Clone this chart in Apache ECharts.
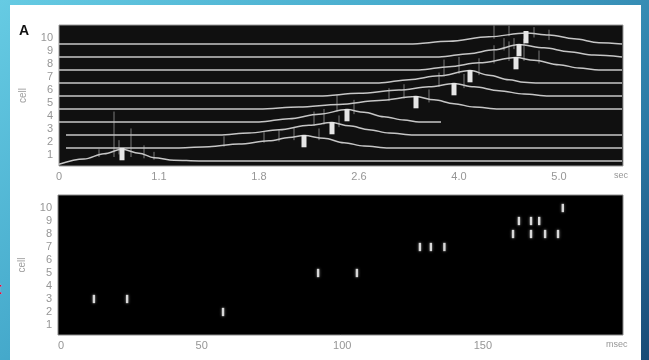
<!DOCTYPE html>
<html>
<head>
<meta charset="utf-8">
<script src="https://cdn.jsdelivr.net/npm/echarts@6/dist/echarts.min.js"></script>
<style>
  html, body { margin: 0; padding: 0; }
  body {
    width: 649px; height: 360px; overflow: hidden; position: relative;
    background: linear-gradient(140deg, #66cbe3 0%, #45a9cb 40%, #2a77a3 75%, #1a4a76 100%);
  }
  #panel { position: absolute; left: 10px; top: 5px; width: 631px; height: 355px; background: #fff; }
  #mark { position: absolute; left: -4px; top: 279px; color: #e3121b; font: bold 17px "Liberation Sans", sans-serif; }
  #chart { position: absolute; left: 0; top: 0; width: 649px; height: 360px; }
</style>
</head>
<body>
<div id="panel"></div>
<div id="mark">t</div>
<div id="chart"></div>
<script>
// tick labels
const secTicks = [0, 1, 2, 3, 4, 5];
const secLabels = ['0', '1.1', '1.8', '2.6', '4.0', '5.0'];
const msecTicks = [0, 50, 100, 150];
const cellTicks = [1, 2, 3, 4, 5, 6, 7, 8, 9, 10];

// top panel: trace of each cell, [sec, rise above its baseline]
const trace1 = [[0, -0.25], [0.25, 0.15], [0.45, 0.55], [0.63, 0.9], [0.8, 0.6], [0.95, 0.25], [1.15, 0.05], [1.4, 0], [5.63, 0]];
const trace2 = [[0.07, 0], [1.2, 0], [1.5, 0.1], [1.8, 0.3], [2.1, 0.55], [2.3, 0.8], [2.45, 0.95], [2.65, 0.75], [2.85, 0.4], [3.05, 0.15], [3.3, 0], [5.63, 0]];
const trace3 = [[0.07, 0], [1.6, 0], [1.9, 0.15], [2.2, 0.4], [2.5, 0.75], [2.73, 0.95], [2.9, 0.7], [3.1, 0.4], [3.3, 0.15], [3.55, 0], [5.63, 0]];
const trace4 = [[0, 0], [2.0, 0], [2.3, 0.25], [2.6, 0.6], [2.88, 0.95], [3.05, 0.75], [3.25, 0.4], [3.45, 0.15], [3.6, 0], [3.82, 0]];
const trace5 = [[0, 0], [2.0, 0], [2.4, 0.15], [2.8, 0.35], [3.2, 0.65], [3.57, 0.95], [3.75, 0.7], [3.95, 0.4], [4.15, 0.15], [4.4, 0], [5.63, 0]];
const trace6 = [[0, 0], [2.6, 0], [3.0, 0.2], [3.4, 0.45], [3.7, 0.7], [3.95, 0.95], [4.15, 0.7], [4.4, 0.4], [4.65, 0.15], [4.9, 0], [5.63, 0]];
const trace7 = [[0, 0], [3.2, 0], [3.5, 0.25], [3.8, 0.55], [4.11, 0.95], [4.3, 0.6], [4.5, 0.25], [4.65, 0.05], [4.8, 0], [5.63, 0]];
const trace8 = [[0, 0], [3.6, 0], [3.9, 0.25], [4.2, 0.55], [4.57, 0.95], [4.75, 0.75], [5.0, 0.4], [5.2, 0.15], [5.4, 0], [5.63, 0]];
const trace9 = [[0, 0], [3.8, 0], [4.1, 0.25], [4.35, 0.55], [4.6, 0.95], [4.85, 0.7], [5.1, 0.4], [5.35, 0.15], [5.63, 0]];
const trace10 = [[0, 0], [3.5, 0], [3.9, 0.2], [4.3, 0.55], [4.67, 0.85], [4.9, 0.7], [5.15, 0.4], [5.4, 0.1], [5.63, 0]];
const traces = [trace1, trace2, trace3, trace4, trace5, trace6, trace7, trace8, trace9, trace10];

// white markers at the peak of each cell (sec)
const peakTimes = [0.63, 2.45, 2.73, 2.88, 3.57, 3.95, 4.11, 4.57, 4.60, 4.67];

// spikes: [sec, cell, from, to] above the baseline
const spikes = [
  [0.55, 1, 0.3, 3.8], [0.72, 1, 0.3, 2.5], [0.6, 1, 0.5, 1.6], [0.85, 1, 0.2, 1.2], [0.4, 1, 0.3, 0.9], [0.95, 1, 0.1, 0.7],
  [1.65, 2, 0.1, 0.9], [2.05, 2, 0.4, 1.3], [2.2, 2, 0.5, 1.4], [2.35, 2, 0.6, 1.6], [2.6, 2, 0.6, 1.5],
  [2.55, 3, 0.7, 1.8], [2.65, 3, 0.8, 2.0], [2.8, 3, 0.6, 1.5],
  [2.78, 4, 0.8, 2.1], [2.95, 4, 0.6, 1.7],
  [3.3, 5, 0.6, 1.6], [3.45, 5, 0.8, 1.9], [3.7, 5, 0.5, 1.5],
  [3.8, 6, 0.7, 1.8], [4.05, 6, 0.6, 1.7],
  [3.85, 7, 0.5, 1.8], [4.0, 7, 0.7, 2.0], [4.2, 7, 0.6, 1.9],
  [4.35, 8, 0.5, 1.9], [4.5, 8, 0.7, 2.2], [4.65, 8, 0.7, 2.4], [4.8, 8, 0.5, 1.5],
  [4.45, 9, 0.5, 1.45], [4.55, 9, 0.6, 1.45],
  [4.35, 10, 0.4, 1.45], [4.5, 10, 0.6, 1.4], [4.75, 10, 0.5, 1.3], [4.9, 10, 0.3, 1.1]
];

// bottom panel: raster (msec, cell)
const rasterTimes = [11.7, 23.5, 57.6, 91.4, 105.2, 127.6, 131.5, 136.3, 160.7, 167.1, 172.1, 176.7, 162.8, 167.1, 170.0, 178.4];
const rasterCells = [3, 3, 2, 5, 5, 7, 7, 7, 8, 8, 8, 8, 9, 9, 9, 10];

const baseOffset = -0.46;
const labelColor = '#969696';
const font = '"Liberation Sans", Arial, sans-serif';

const chart = echarts.init(document.getElementById('chart'));

let series = [];
traces.forEach(function (tr, i) {
  const base = i + 1 + baseOffset;
  series.push({
    type: 'line',
    xAxisIndex: 0,
    yAxisIndex: 0,
    data: tr.map(p => [p[0], base + p[1]]),
    smooth: 0.35,
    smoothMonotone: 'x',
    showSymbol: false,
    silent: true,
    lineStyle: { color: '#c6c6c6', width: 1.5 },
    z: 3
  });
});

series.push({
  type: 'custom',
  xAxisIndex: 0,
  yAxisIndex: 0,
  silent: true,
  data: spikes.map(s => [s[0], s[1] + baseOffset + s[2], s[1] + baseOffset + s[3]]),
  renderItem: function (params, api) {
    const p0 = api.coord([api.value(0), api.value(1)]);
    const p1 = api.coord([api.value(0), api.value(2)]);
    return {
      type: 'line',
      shape: { x1: p0[0], y1: p0[1], x2: p1[0], y2: p1[1] },
      style: { stroke: '#7a7a7a', lineWidth: 1 }
    };
  },
  z: 2
});

series.push({
  type: 'custom',
  xAxisIndex: 0,
  yAxisIndex: 0,
  silent: true,
  data: peakTimes.map((t, i) => [t, i + 1 + baseOffset + 0.05, i + 1 + baseOffset + 1.0]),
  renderItem: function (params, api) {
    const p0 = api.coord([api.value(0), api.value(1)]);
    const p1 = api.coord([api.value(0), api.value(2)]);
    return {
      type: 'rect',
      shape: { x: p0[0] - 2.5, y: p1[1], width: 5, height: p0[1] - p1[1] },
      style: { fill: '#e6e6e6' }
    };
  },
  z: 4
});

series.push({
  type: 'custom',
  xAxisIndex: 1,
  yAxisIndex: 1,
  silent: true,
  data: rasterTimes.map((t, i) => [t, rasterCells[i]]),
  renderItem: function (params, api) {
    const p0 = api.coord([api.value(0), api.value(1) - 0.32]);
    const p1 = api.coord([api.value(0), api.value(1) + 0.32]);
    return {
      type: 'rect',
      shape: { x: p0[0] - 1.2, y: p1[1], width: 2.4, height: p0[1] - p1[1] },
      style: { fill: '#d8d8d8', shadowBlur: 3, shadowColor: 'rgba(200,200,200,0.6)' }
    };
  },
  z: 4
});

const yLabel = {
  customValues: cellTicks,
  color: labelColor,
  fontSize: 11,
  fontFamily: font,
  margin: 6,
  formatter: v => String(Math.round(v))
};

chart.setOption({
  animation: false,
  grid: [
    { left: 59, top: 25, width: 564, height: 141, show: true, backgroundColor: '#101010', borderColor: '#9a9a9a', borderWidth: 1 },
    { left: 58, top: 195, width: 565, height: 140, show: true, backgroundColor: '#000', borderColor: '#8a8a8a', borderWidth: 1 }
  ],
  xAxis: [
    {
      type: 'value', gridIndex: 0, min: 0, max: 5.64,
      axisLine: { show: false }, axisTick: { show: false }, splitLine: { show: false },
      axisLabel: {
        customValues: secTicks, color: labelColor, fontSize: 11, fontFamily: font, margin: 5,
        formatter: v => secLabels[Math.round(v)]
      }
    },
    {
      type: 'value', gridIndex: 1, min: -1.07, max: 199.8,
      axisLine: { show: false }, axisTick: { show: false }, splitLine: { show: false },
      axisLabel: {
        customValues: msecTicks, color: labelColor, fontSize: 11, fontFamily: font, margin: 5,
        formatter: v => String(Math.round(v))
      }
    }
  ],
  yAxis: [
    {
      type: 'value', gridIndex: 0, min: 0.15, max: 11,
      axisLine: { show: false }, axisTick: { show: false }, splitLine: { show: false },
      axisLabel: yLabel,
      name: 'cell', nameLocation: 'middle', nameGap: 31, nameRotate: 90,
      nameTextStyle: { color: '#a0a0a0', fontSize: 10, fontFamily: font }
    },
    {
      type: 'value', gridIndex: 1, min: 0.23, max: 11,
      axisLine: { show: false }, axisTick: { show: false }, splitLine: { show: false },
      axisLabel: yLabel,
      name: 'cell', nameLocation: 'middle', nameGap: 31, nameRotate: 90,
      nameTextStyle: { color: '#a0a0a0', fontSize: 10, fontFamily: font }
    }
  ],
  graphic: [
    { type: 'text', left: 19, top: 24, style: { text: 'A', font: 'bold 14px ' + font, fill: '#111' } },
    { type: 'text', left: 614, top: 171, style: { text: 'sec', font: '9px ' + font, fill: labelColor } },
    { type: 'text', left: 606, top: 340, style: { text: 'msec', font: '9px ' + font, fill: labelColor } }
  ],
  series: series
});
</script>
</body>
</html>
